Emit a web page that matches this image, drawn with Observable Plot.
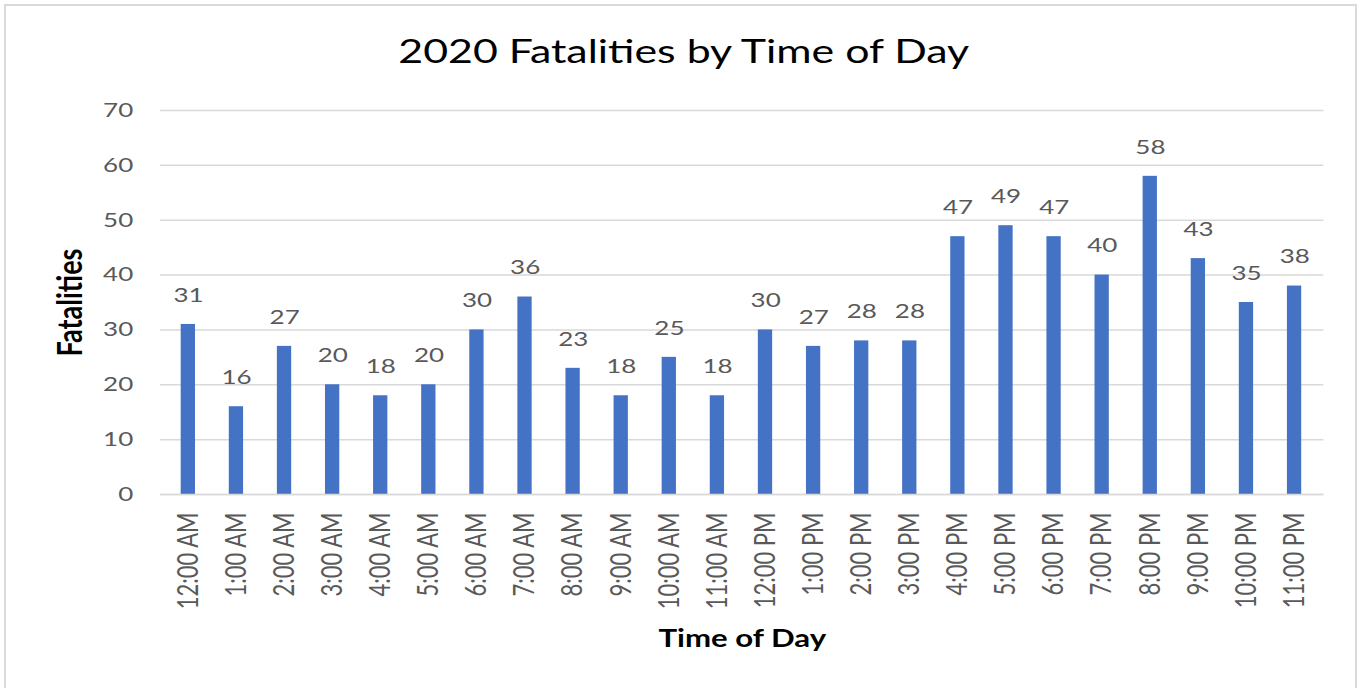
<!DOCTYPE html>
<html>
<head>
<meta charset="utf-8">
<script src="https://cdn.jsdelivr.net/npm/d3@7"></script>
<script src="https://cdn.jsdelivr.net/npm/@observablehq/plot@0.6"></script>
<style>
  html, body { margin: 0; padding: 0; background: white; overflow: hidden; }
  #wrap { position: relative; width: 1361px; height: 688px; }
  #frame { position: absolute; left: 4px; top: 4px; width: 1353px; height: 700px; border: 2px solid #d9d9d9; box-sizing: border-box; pointer-events: none; }
</style>
</head>
<body>
<div id="wrap"><div id="frame"></div></div>
<script>
const hours = ["12:00 AM","1:00 AM","2:00 AM","3:00 AM","4:00 AM","5:00 AM","6:00 AM","7:00 AM","8:00 AM","9:00 AM","10:00 AM","11:00 AM","12:00 PM","1:00 PM","2:00 PM","3:00 PM","4:00 PM","5:00 PM","6:00 PM","7:00 PM","8:00 PM","9:00 PM","10:00 PM","11:00 PM"];
const fatalities = [31,16,27,20,18,20,30,36,23,18,25,18,30,27,28,28,47,49,47,40,58,43,35,38];
const yTicks = [0,10,20,30,40,50,60,70];
const title = "2020 Fatalities by Time of Day";
const xTitle = "Time of Day";
const yTitle = "Fatalities";

const data = hours.map((h, i) => ({hour: h, value: fatalities[i]}));

// The reference image is stretched horizontally; draw in a narrower virtual width and stretch.
const K = 1.3;
const W = Math.round(1361 / K);

const chart = Plot.plot({
  width: W,
  height: 688,
  marginLeft: 123,
  marginRight: 29,
  marginTop: 110,
  marginBottom: 194,
  style: {fontFamily: "Lato, 'Open Sans', sans-serif", background: "white"},
  x: {domain: hours, paddingInner: 0.7, paddingOuter: 0.35, label: null},
  y: {domain: [0, 70], label: null},
  marks: [
    Plot.gridY(yTicks, {stroke: "#d9d9d9", strokeOpacity: 1, strokeWidth: 1.5}),
    Plot.barY(data, {x: "hour", y: "value", fill: "#4472C4"}),
    Plot.ruleY([0], {stroke: "#d9d9d9", strokeWidth: 1.5}),
    Plot.text(data, {x: "hour", y: "value", text: d => String(d.value), dy: -29, fill: "#595959", fontSize: 20}),
    Plot.axisY(yTicks, {tickSize: 0, tickPadding: 21, fontSize: 20, fill: "#595959", label: null}),
    Plot.axisX({tickSize: 0, tickRotate: -90, tickPadding: 18, fontSize: 22, fill: "#595959", label: null}),
    Plot.text([title], {text: d => d, frameAnchor: "top", lineAnchor: "middle", textAnchor: "middle", dy: -58, dx: -45, fontSize: 33, fill: "black"}),
    Plot.text([yTitle], {text: d => d, frameAnchor: "left", lineAnchor: "middle", textAnchor: "middle", dx: -69, rotate: -90, fontSize: 27, fontWeight: "bold", fill: "black"}),
    Plot.text([xTitle], {text: d => d, frameAnchor: "bottom", lineAnchor: "middle", textAnchor: "middle", dy: 145, fontSize: 24, fontWeight: "bold", fill: "black"})
  ]
});

chart.setAttribute("width", 1361);
chart.setAttribute("height", 688);
chart.setAttribute("preserveAspectRatio", "none");
chart.style.maxWidth = "none";
chart.style.width = "1361px";
chart.style.height = "688px";
chart.style.display = "block";
document.getElementById("wrap").prepend(chart);
</script>
</body>
</html>
